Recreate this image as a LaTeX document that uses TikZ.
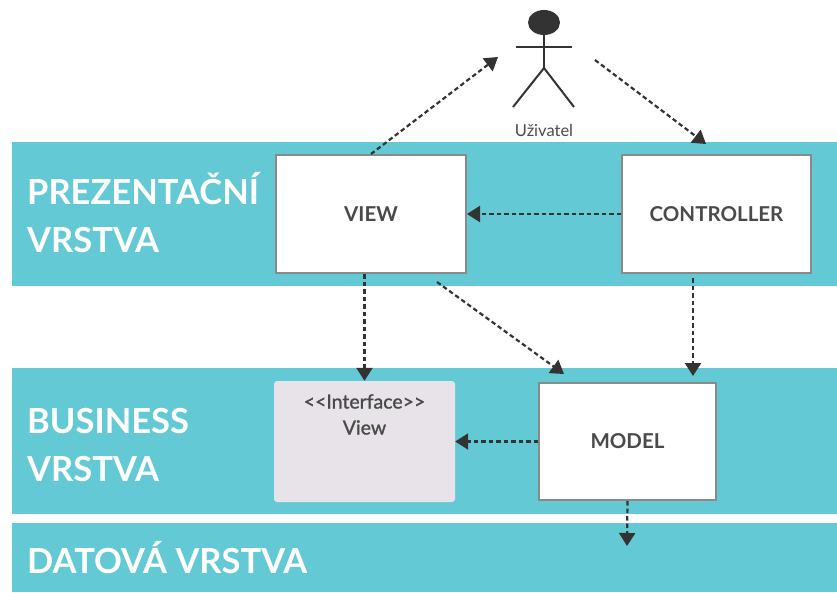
\documentclass[tikz,border=0pt]{standalone}
\usepackage{fontspec}
\setmainfont{Lato}
\usepackage{tikz}
\usetikzlibrary{arrows.meta, positioning}

\definecolor{band}{HTML}{63C9D5}
\definecolor{ink}{HTML}{333333}
\definecolor{boxline}{HTML}{8A8A8A}
\definecolor{boxtext}{HTML}{4A4A4A}
\definecolor{ifacefill}{HTML}{E7E3E8}

\tikzset{
  layer/.style={fill=band, draw=none},
  layerlbl/.style={text=white, font=\fontsize{34.5}{48}\selectfont\bfseries, anchor=base west, align=left, inner sep=0pt},
  comp/.style={draw=boxline, line width=2pt, fill=white, text=boxtext, font=\fontsize{20.5}{24}\selectfont\bfseries, inner sep=0pt},
  dep/.style={draw=ink, line width=2.2pt, dash pattern=on 4.5pt off 3pt, -{Triangle[length=13pt,width=16pt]}},
}

\begin{document}
\begin{tikzpicture}[x=1pt, y=-1pt]
        \useasboundingbox (0,0) rectangle (837,592);
        % layers
        \fill[layer] (12,142) rectangle (837,286);
        \fill[layer] (12,368) rectangle (837,514);
        \fill[layer] (12,523) rectangle (837,592);
        \node[layerlbl] (pres) at (27,252) {PREZENTAČNÍ\\VRSTVA};
        \node[layerlbl] (bus) at (27,481) {BUSINESS\\VRSTVA};
        \node[layerlbl] (data) at (27,573) {DATOVÁ VRSTVA};
        % actor
        \begin{scope}[draw=ink, line width=2pt]
          \fill[ink] (544,22.5) ellipse [x radius=16, y radius=12.5];
          \draw (544,35) -- (544,68);
          \draw (516,47) -- (572,47);
          \draw (513,107) -- (544,68) -- (574,107);
        \end{scope}
        \node[text=boxtext, font=\fontsize{16.5}{18}\selectfont, anchor=base, inner sep=0pt] (user) at (544,136) {Uživatel};
        % components
        \begin{scope}[every node/.style={comp}]
          \node[minimum width=190, minimum height=118] (view) at (371,214) {VIEW};
          \node[minimum width=189, minimum height=118] (ctrl) at (716.5,214) {CONTROLLER};
          \node[minimum width=177, minimum height=117] (model) at (627.5,441.5) {MODEL};
        \end{scope}
        \node[fill=ifacefill, rounded corners=3pt, minimum width=181, minimum height=121, inner sep=0pt,
              label={[anchor=north, yshift=-10pt, align=center, text=boxtext, font=\fontsize{19.5}{26}\selectfont\addfontfeature{FakeBold=1.2}]north:<{}<Interface>{}>\\View}]
              (iface) at (364.5,441.5) {};
        % loose ends
        \coordinate (uin) at (498,57);
        \coordinate (uout) at (595,60);
        \coordinate (cin) at (706,144);
        \coordinate (vout) at (437,282);
        \coordinate (min) at (564,374);
        \coordinate (db) at (627,546);
        % dependencies
        \begin{scope}[every edge/.style={dep}]
          \path (view.north) edge (uin);
          \path (uout) edge (cin);
          \path (ctrl.west) edge (view.east);
          \path (iface.north |- view.south) edge (iface.north);
          \path (vout) edge (min);
          \path ([xshift=72]ctrl.south west) edge[shorten <=4pt, shorten >=6pt] ([xshift=155]model.north west);
          \path (model.west) edge (iface.east);
          \path (model.south) edge (db);
        \end{scope}
      \end{tikzpicture}
\end{document}
